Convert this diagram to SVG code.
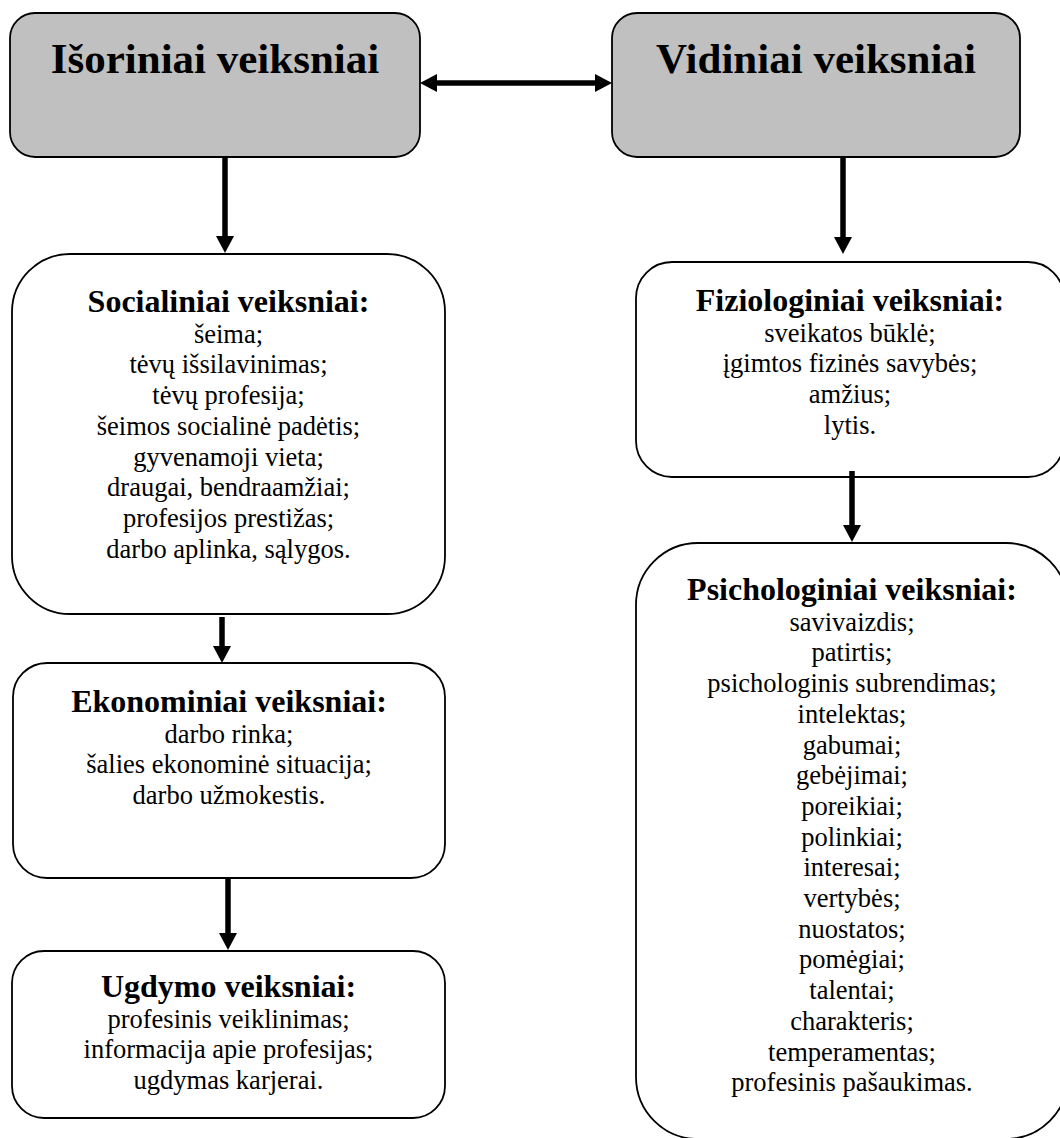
<svg xmlns="http://www.w3.org/2000/svg" width="1060" height="1138" viewBox="0 0 1060 1138">
<defs>
<marker id="ah" markerUnits="userSpaceOnUse" markerWidth="18" markerHeight="18" refX="0" refY="9" orient="auto-start-reverse" viewBox="0 0 17 18">
<path d="M0,0 L17,9 L0,18 Z" fill="#000"/>
</marker>
<style>
.box{fill:#fff;stroke:#000;stroke-width:1.8}
.grey{fill:#c0c0c0;stroke:#000;stroke-width:1.8}
.big{font-family:"Liberation Serif","Times New Roman",serif;font-weight:bold;font-size:43px;text-anchor:middle;fill:#000}
.ttl{font-family:"Liberation Serif","Times New Roman",serif;font-weight:bold;font-size:32px;text-anchor:middle;fill:#000}
.itm{font-family:"Liberation Serif","Times New Roman",serif;font-size:26.5px;text-anchor:middle;fill:#000}
.con{stroke:#000;stroke-width:5.5;fill:none;marker-end:url(#ah)}
</style>
</defs>
<rect width="1060" height="1138" fill="#fff"/>
<g id="isoriniai">
<rect class="grey" x="10" y="13" width="410" height="144" rx="25"/>
<text class="big" x="215" y="73">Išoriniai veiksniai</text>
</g>
<g id="vidiniai">
<rect class="grey" x="612" y="13" width="408" height="144" rx="25"/>
<text class="big" x="816" y="73">Vidiniai veiksniai</text>
</g>
<g id="socialiniai">
<rect class="box" x="12" y="254" width="433" height="360" rx="58"/>
<text class="ttl" x="228.5" y="312">Socialiniai veiksniai:</text>
<text class="itm" x="228.5" y="342.7">šeima;</text>
<text class="itm" x="228.5" y="373.4">tėvų išsilavinimas;</text>
<text class="itm" x="228.5" y="404.1">tėvų profesija;</text>
<text class="itm" x="228.5" y="434.8">šeimos socialinė padėtis;</text>
<text class="itm" x="228.5" y="465.5">gyvenamoji vieta;</text>
<text class="itm" x="228.5" y="496.2">draugai, bendraamžiai;</text>
<text class="itm" x="228.5" y="526.9">profesijos prestižas;</text>
<text class="itm" x="228.5" y="557.6">darbo aplinka, sąlygos.</text>
</g>
<g id="ekonominiai">
<rect class="box" x="13" y="663" width="432" height="215" rx="34"/>
<text class="ttl" x="229" y="712">Ekonominiai veiksniai:</text>
<text class="itm" x="229" y="742.7">darbo rinka;</text>
<text class="itm" x="229" y="773.4">šalies ekonominė situacija;</text>
<text class="itm" x="229" y="804.1">darbo užmokestis.</text>
</g>
<g id="ugdymo">
<rect class="box" x="12" y="951" width="433" height="167" rx="32"/>
<text class="ttl" x="228.5" y="997">Ugdymo veiksniai:</text>
<text class="itm" x="228.5" y="1027.7">profesinis veiklinimas;</text>
<text class="itm" x="228.5" y="1058.4">informacija apie profesijas;</text>
<text class="itm" x="228.5" y="1089.1">ugdymas karjerai.</text>
</g>
<g id="fiziologiniai">
<rect class="box" x="636" y="262" width="428" height="215" rx="36"/>
<text class="ttl" x="850" y="311">Fiziologiniai veiksniai:</text>
<text class="itm" x="850" y="341.7">sveikatos būklė;</text>
<text class="itm" x="850" y="372.4">įgimtos fizinės savybės;</text>
<text class="itm" x="850" y="403.1">amžius;</text>
<text class="itm" x="850" y="433.8">lytis.</text>
</g>
<g id="psichologiniai">
<rect class="box" x="636" y="543" width="432" height="596" rx="62"/>
<text class="ttl" x="852" y="600">Psichologiniai veiksniai:</text>
<text class="itm" x="852" y="630.7">savivaizdis;</text>
<text class="itm" x="852" y="661.4">patirtis;</text>
<text class="itm" x="852" y="692.1">psichologinis subrendimas;</text>
<text class="itm" x="852" y="722.8">intelektas;</text>
<text class="itm" x="852" y="753.5">gabumai;</text>
<text class="itm" x="852" y="784.2">gebėjimai;</text>
<text class="itm" x="852" y="814.9">poreikiai;</text>
<text class="itm" x="852" y="845.6">polinkiai;</text>
<text class="itm" x="852" y="876.3">interesai;</text>
<text class="itm" x="852" y="907">vertybės;</text>
<text class="itm" x="852" y="937.7">nuostatos;</text>
<text class="itm" x="852" y="968.4">pomėgiai;</text>
<text class="itm" x="852" y="999.1">talentai;</text>
<text class="itm" x="852" y="1029.8">charakteris;</text>
<text class="itm" x="852" y="1060.5">temperamentas;</text>
<text class="itm" x="852" y="1091.2">profesinis pašaukimas.</text>
</g>
<g id="connectors">
<line class="con" x1="437" y1="83" x2="595" y2="83" marker-start="url(#ah)"/>
<line class="con" x1="225" y1="157" x2="225" y2="236"/>
<line class="con" x1="843" y1="157" x2="843" y2="237"/>
<line class="con" x1="222" y1="617" x2="222" y2="646"/>
<line class="con" x1="228" y1="878" x2="228" y2="933"/>
<line class="con" x1="852" y1="471" x2="852" y2="525"/>
</g>
</svg>
